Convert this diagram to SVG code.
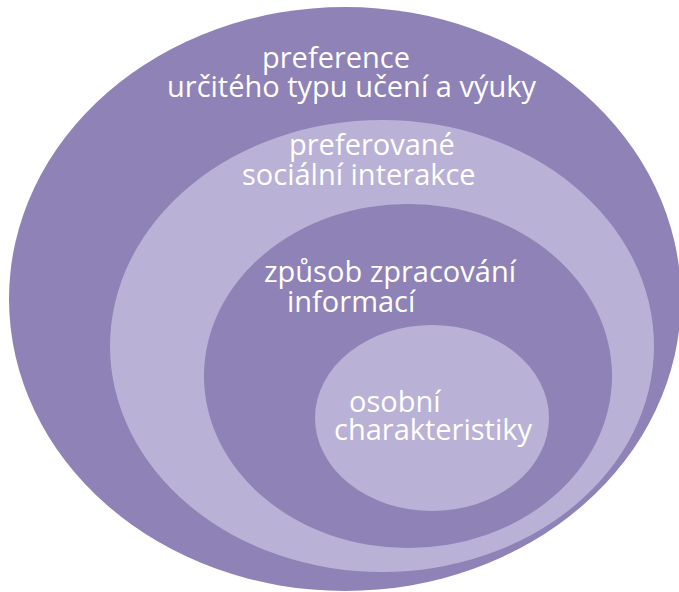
<svg xmlns="http://www.w3.org/2000/svg" width="679" height="592" viewBox="0 0 679 592">
  <style>
    .dark { fill: #8e82b6; }
    .light { fill: #bab1d6; }
    .label { fill: #ffffff; font-family: "Open Sans", "Noto Sans", "DejaVu Sans", sans-serif; font-size: 29px; }
  </style>
  <rect width="679" height="592" fill="#ffffff"/>
  <!-- nested layers, outermost first -->
  <g id="layer-learning-preference">
    <ellipse class="dark" cx="345" cy="299" rx="336" ry="292"/>
    <text class="label" x="262" y="68">preference</text>
    <text class="label" x="167" y="97">určitého typu učení a výuky</text>
  </g>
  <g id="layer-social-interaction">
    <ellipse class="light" cx="382" cy="346" rx="272" ry="226"/>
    <text class="label" x="289" y="155">preferované</text>
    <text class="label" x="242" y="185">sociální interakce</text>
  </g>
  <g id="layer-information-processing">
    <ellipse class="dark" cx="408" cy="376" rx="204" ry="172"/>
    <text class="label" x="264" y="282">způsob zpracování</text>
    <text class="label" x="287" y="312">informací</text>
  </g>
  <g id="layer-personality">
    <ellipse class="light" cx="432" cy="418" rx="117" ry="93"/>
    <text class="label" x="349" y="412">osobní</text>
    <text class="label" x="334" y="440">charakteristiky</text>
  </g>
  <g id="connectors"/>
</svg>
